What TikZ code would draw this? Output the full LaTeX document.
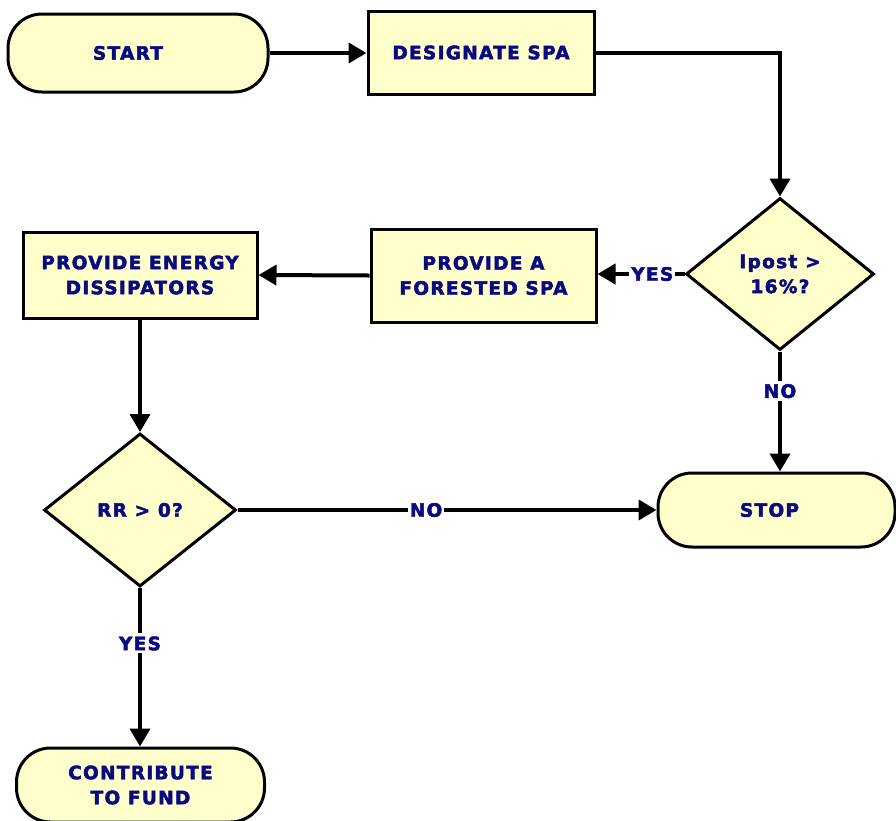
\documentclass[tikz,border=0pt]{standalone}
\usepackage{fontspec}
\usetikzlibrary{shapes.geometric,arrows.meta}
\newfontfamily\chartfont[LetterSpace=7, BoldFeatures={FakeBold=2.6}]{DejaVu Sans}
\definecolor{boxfill}{HTML}{FFFFCC}
\definecolor{labelblue}{HTML}{0A0A80}
\tikzset{
  chart/.style={font=\chartfont\bfseries\fontsize{18.5}{25}\selectfont,
    text=labelblue, align=center, inner sep=0pt},
  terminal/.style={chart, draw=black, fill=boxfill, line width=3pt,
    rounded corners=34pt},
  process/.style={chart, draw=black, fill=boxfill, line width=3pt},
  decision/.style={chart, diamond, draw=black, fill=boxfill, line width=3pt},
  flow/.style={line width=4pt, -{Triangle[length=18pt,width=20pt]}},
  tag/.style={chart, fill=white, inner xsep=2pt, inner ysep=3pt},
}
\begin{document}
\begin{tikzpicture}[x=1pt,y=-1pt]
\useasboundingbox (0,0) rectangle (896,820);
\clip (0,0) rectangle (896,820);

% nodes of the chart
\node[terminal, minimum width=260pt, minimum height=78pt] (start) at (138,53) {START\kern20pt};
\node[process, minimum width=226pt, minimum height=83pt] (design) at (481,52.5) {DESIGNATE SPA};
\node[decision, minimum width=188pt, minimum height=152pt] (ipost) at (780,274) {Ipost >\\16\%?};
\node[process, minimum width=225pt, minimum height=93pt] (forest) at (483.5,275.5) {PROVIDE A\\FORESTED SPA};
\node[process, minimum width=234pt, minimum height=86pt] (energy) at (140,275) {PROVIDE ENERGY\\DISSIPATORS};
\node[decision, minimum width=192pt, minimum height=153pt] (rr) at (140,510) {RR > 0?};
\node[terminal, minimum width=237pt, minimum height=74pt] (stop) at (776.5,510) {STOP\kern14pt};
\node[terminal, minimum width=248pt, minimum height=74pt] (fund) at (140.5,785) {CONTRIBUTE\\TO FUND};

% connectors
\draw[flow] (start.east) -- (design.west |- start.east);
\draw[flow] (design.east) -| (ipost.north);
\draw[flow] (ipost.west) -- node[tag, pos=0.37] {YES} (forest.east |- ipost.west);
\draw[flow] (forest.west) -- (energy.east);
\draw[flow] (energy.south) -- (rr.north);
\draw[flow] (ipost.south) -- node[tag, pos=0.33] {NO} (ipost.south |- stop.north);
\draw[flow] (rr.east) -- node[tag, pos=0.45] {NO} (stop.west);
\draw[flow] (rr.south) -- node[tag, pos=0.35] {YES} (rr.south |- fund.north);
\end{tikzpicture}
\end{document}
